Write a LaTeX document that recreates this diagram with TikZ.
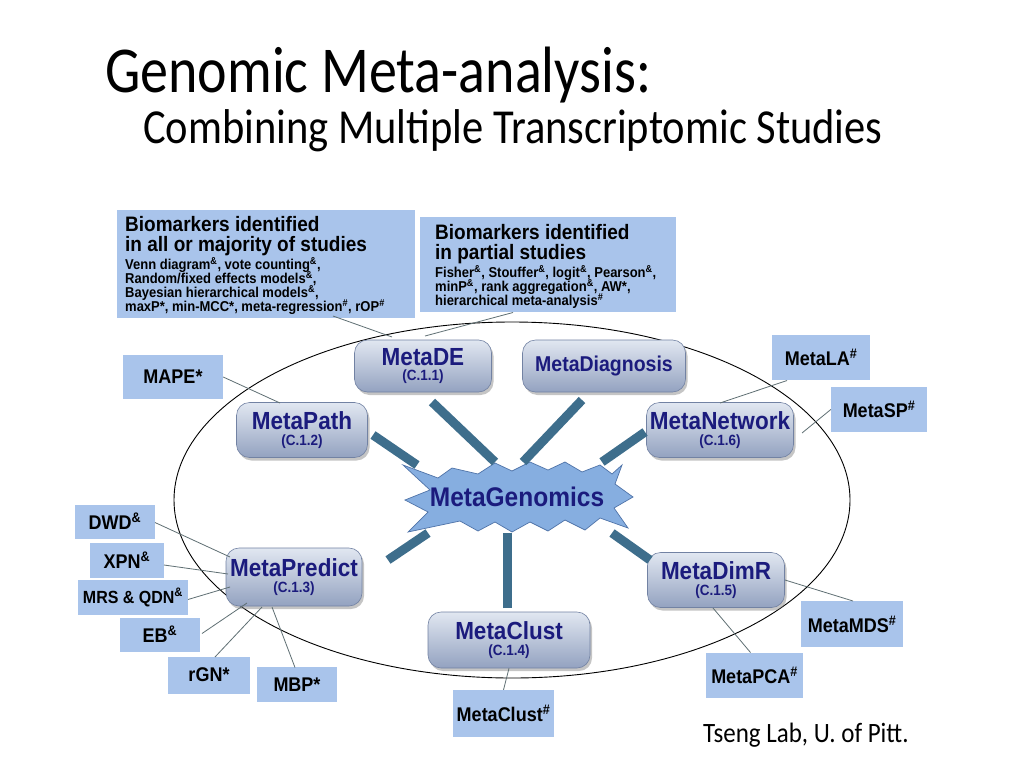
\documentclass[tikz,border=0pt]{standalone}
\usepackage{graphicx}
\usepackage{fontspec}
\setmainfont{Liberation Sans}
\newfontfamily\titlefont{Carlito}
\usetikzlibrary{shadows,calc}
\definecolor{boxblue}{HTML}{A9C4EB}
\definecolor{modtop}{HTML}{E1E7F1}
\definecolor{modbot}{HTML}{93A2C0}
\definecolor{modedge}{HTML}{7282A3}
\definecolor{navy}{HTML}{1B1B7D}
\definecolor{thickc}{HTML}{3E6E8C}
\definecolor{thinc}{HTML}{5F6F73}
\definecolor{starfill}{HTML}{86AEE0}
\definecolor{staredge}{HTML}{4F73A8}
\newcommand\supr[1]{\textsuperscript{#1}}
\newcommand\tall[1]{\scalebox{1}[1.1]{#1}}
\newcommand\ctext[1]{{\fontsize{13.5}{15}\selectfont\tall{#1}}}
\tikzset{
  module/.style={rounded corners=13pt, top color=modtop, bottom color=modbot, draw=modedge, line width=0.6pt,
    drop shadow={opacity=0.45,shadow xshift=2pt,shadow yshift=-3pt}, text=navy,
    font=\bfseries\fontsize{22.5}{15.5}\selectfont, align=center, inner sep=0pt},
  smallbox/.style={fill=boxblue, inner sep=0pt, font=\bfseries\fontsize{18}{20}\selectfont},
  bigbox/.style={fill=boxblue, inner sep=0pt},
  head/.style={anchor=base west, inner sep=0pt, font=\bfseries\fontsize{19}{19}\selectfont},
  body/.style={anchor=base west, inner sep=0pt, font=\bfseries\fontsize{13}{14}\selectfont},
  thinline/.style={draw=thinc, line width=0.8pt},
  thickline/.style={draw=thickc, line width=9pt}
}
\begin{document}
\begin{tikzpicture}[x=1pt,y=-1pt]
\useasboundingbox (0,0) rectangle (1024,768);
\fill[white] (0,0) rectangle (1024,768);
% titles
\node[anchor=base west, inner sep=0pt, font=\titlefont\fontsize{56}{60}\selectfont] (title) at (105,92) {\scalebox{1}[1.17]{Genomic Meta-analysis:}};
\node[anchor=base west, inner sep=0pt, font=\titlefont\fontsize{42.5}{46}\selectfont] (subtitle) at (143,143) {\scalebox{1}[1.15]{Combining Multiple Transcriptomic Studies}};
\node[anchor=base west, inner sep=0pt, font=\titlefont\fontsize{25}{28}\selectfont] (credit) at (703,742) {\scalebox{1}[1.12]{Tseng Lab, U. of Pitt.}};
% ellipse
\draw[black, line width=0.9pt] (512,500) ellipse [x radius=338, y radius=178];
% big text boxes
\node[bigbox, minimum width=298, minimum height=108] (b1) at (266,264) {};
\node[head] (b1a) at (125,231.5) {\tall{Biomarkers identified}};
\node[head] (b1b) at (125,251.5) {\tall{in all or majority of studies}};
\node[body] (b1c) at (125,269) {\tall{Venn diagram\supr{\&}, vote counting\supr{\&},}};
\node[body] (b1d) at (125,283) {\tall{Random/fixed effects models\supr{\&},}};
\node[body] (b1e) at (125,297) {\tall{Bayesian hierarchical models\supr{\&},}};
\node[body] (b1f) at (125,311) {\tall{maxP*, min-MCC*, meta-regression\supr{\#}, rOP\supr{\#}}};
\node[bigbox, minimum width=256, minimum height=95] (b2) at (548,264.5) {};
\node[head] (b2a) at (435,239.5) {\tall{Biomarkers identified}};
\node[head] (b2b) at (435,259.5) {\tall{in partial studies}};
\node[body] (b2c) at (435,277) {\tall{Fisher\supr{\&}, Stouffer\supr{\&}, logit\supr{\&}, Pearson\supr{\&},}};
\node[body] (b2d) at (435,291) {\tall{minP\supr{\&}, rank aggregation\supr{\&}, AW*,}};
\node[body] (b2e) at (435,305) {\tall{hierarchical meta-analysis\supr{\#}}};
% small boxes
\node[smallbox, minimum width=100, minimum height=44] (mape) at (173,377) {\tall{MAPE*}};
\node[smallbox, minimum width=98, minimum height=45] (mla) at (821,357.5) {\tall{MetaLA\supr{\#}}};
\node[smallbox, minimum width=96, minimum height=45] (msp) at (879,409.5) {\tall{MetaSP\supr{\#}}};
\node[smallbox, minimum width=80, minimum height=34] (dwd) at (115,521.5) {\tall{DWD\supr{\&}}};
\node[smallbox, minimum width=74, minimum height=35] (xpn) at (127,560) {\tall{XPN\supr{\&}}};
\node[smallbox, minimum width=110, minimum height=35, font=\bfseries\fontsize{16}{18}\selectfont] (mrs) at (133,597.5) {\tall{MRS \& QDN\supr{\&}}};
\node[smallbox, minimum width=80, minimum height=34] (eb) at (160,634.5) {\tall{EB\supr{\&}}};
\node[smallbox, minimum width=82, minimum height=37] (rgn) at (209,675) {\tall{rGN*}};
\node[smallbox, minimum width=80, minimum height=35] (mbp) at (297,684.5) {\tall{MBP*}};
\node[smallbox, minimum width=101, minimum height=47] (mcl) at (503.5,713.5) {\tall{MetaClust\supr{\#}}};
\node[smallbox, minimum width=102, minimum height=46] (mds) at (852,624) {\tall{MetaMDS\supr{\#}}};
\node[smallbox, minimum width=97, minimum height=45] (pca) at (754.5,675.5) {\tall{MetaPCA\supr{\#}}};
% star
\draw[fill=starfill, draw=staredge, line width=0.7pt]
 (403,465) -- (438,478) -- (452,468) -- (478,474) -- (495,463) -- (512,471) -- (530,462) -- (548,470)
 -- (565,462) -- (582,472) -- (600,465) -- (612,474) -- (622,465) -- (615,484) -- (633,497) -- (614,508)
 -- (628,528) -- (600,518) -- (585,530) -- (565,520) -- (548,531) -- (530,522) -- (512,532) -- (495,522)
 -- (478,531) -- (460,521) -- (408,532) -- (428,512) -- (405,500) -- (430,490) -- cycle;
\node[text=navy, font=\bfseries\fontsize{24.5}{26}\selectfont, inner sep=0pt] (gen) at (517,497) {\tall{MetaGenomics}};
% modules
\node[module, minimum width=137, minimum height=52] (de) at (423,366) {\tall{MetaDE}\\\ctext{(C.1.1)}};
\node[module, minimum width=163, minimum height=52, font=\bfseries\fontsize{19.5}{20}\selectfont] (diag) at (604,366) {\tall{MetaDiagnosis}};
\node[module, minimum width=131, minimum height=55] (path) at (302,430) {\tall{MetaPath}\\\ctext{(C.1.2)}};
\node[module, minimum width=147, minimum height=55] (net) at (720,430) {\tall{MetaNetwork}\\\ctext{(C.1.6)}};
\node[module, minimum width=136, minimum height=58] (pred) at (294,577) {\tall{MetaPredict}\\\ctext{(C.1.3)}};
\node[module, minimum width=137, minimum height=55] (dimr) at (716,580) {\tall{MetaDimR}\\\ctext{(C.1.5)}};
\node[module, minimum width=162, minimum height=56] (clust) at (509,640) {\tall{MetaClust}\\\ctext{(C.1.4)}};
% thick connectors
\draw[thickline] ($(de)+(9,36)$) -- ($(gen)+(-22,-35)$);
\draw[thickline] ($(diag)+(-22,34)$) -- ($(gen)+(6,-35)$);
\draw[thickline] ($(path)+(71,5)$) -- ($(gen)+(-100,-32)$);
\draw[thickline] ($(net)+(-75,2)$) -- ($(gen)+(85,-35)$);
\draw[thickline] ($(pred)+(94,-17)$) -- ($(gen)+(-89,36)$);
\draw[thickline] ($(clust)+(-2,-32)$) -- ($(gen)+(-10,36)$);
\draw[thickline] ($(dimr)+(-66,-20)$) -- ($(gen)+(95,36)$);
% thin connectors
\draw[thinline] ($(b1)+(67,52)$) -- ($(de)+(-31,-29)$);
\draw[thinline] ($(b2)+(-35,48)$) -- ($(de)+(2,-30)$);
\draw[thinline] (mape.east) -- ($(path)+(-22,-27)$);
\draw[thinline] ($(mla)+(-34,23)$) -- ($(net)+(0,-27)$);
\draw[thinline] (msp.west) -- ($(net)+(82,3)$);
\draw[thinline] ($(dwd)+(40,1)$) -- ($(pred)+(-64,-20)$);
\draw[thinline] ($(xpn)+(37,5)$) -- ($(pred)+(-66,-3)$);
\draw[thinline] ($(mrs)+(55,2)$) -- ($(pred)+(-64,10)$);
\draw[thinline] ($(eb)+(42,-1)$) -- ($(pred)+(-47,26)$);
\draw[thinline] ($(rgn)+(6,-18)$) -- ($(pred)+(-32,30)$);
\draw[thinline] ($(mbp)+(-2,-17)$) -- ($(pred)+(-22,30)$);
\draw[thinline] (mcl.north) -- (clust.south);
\draw[thinline] ($(mds)+(1,-23)$) -- ($(dimr)+(69,0)$);
\draw[thinline] ($(pca)+(-4,-23)$) -- ($(dimr)+(-3,28)$);
\end{tikzpicture}
\end{document}
